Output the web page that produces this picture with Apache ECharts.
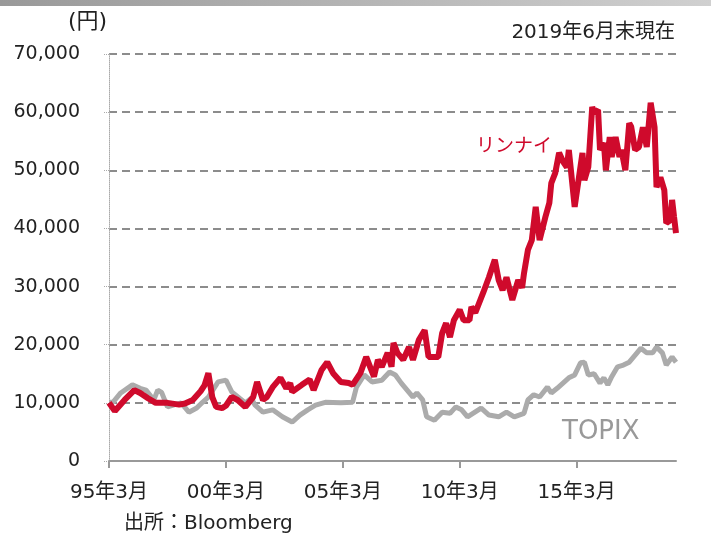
<!DOCTYPE html>
<html>
<head>
<meta charset="utf-8">
<script src="https://cdn.jsdelivr.net/npm/echarts@6/dist/echarts.min.js"></script>
<style>
  html, body { margin: 0; padding: 0; background: #fff; }
  #chart { width: 711px; height: 534px; }
</style>
</head>
<body>
<div id="chart"></div>
<script>
// x = months since 95年3月
var rinnaiMonth = [0,3,8,13,16,20,24,30,36,39,43,47,49,51,53,55,58,60,63,66,70,74,76,79,81,84,88,91,93,94,99,103,105,109,112,115,119,123,125,129,132,134,136,138,140,143,145,146,148,151,154,156,159,162,164,169,171,173,175,177,180,182,185,186,188,192,195,198,200,202,204,207,208,210,212,213,215,217,219,221,224,226,227,229,231,233,235,236,239,243,244,246,248,249,251,252,254,255,257,258,260,262,263,265,267,268,270,272,274,275,276,278,280,281,283,285,286,288,289,290,291];
var rinnaiPrice = [10000,8600,10500,12200,11700,10800,10000,10000,9700,9900,10500,12000,13000,15100,11000,9300,9100,9500,11000,10500,9300,11000,13600,10500,11000,12700,14300,12500,13400,11900,13100,14000,12200,15600,17000,15100,13600,13400,13100,15100,17900,16200,14500,17400,16200,18600,16200,20300,18600,17400,19600,17400,20800,22500,17900,17900,22000,23700,21300,24200,26000,24200,24200,26500,25500,28900,31600,34600,31100,29400,31600,27700,27700,31100,29800,32300,36300,38000,43700,38000,42000,44400,47800,49500,53000,51500,50500,53500,43700,53000,48300,50600,60900,59900,60400,53500,54700,50000,55700,52300,55700,52300,53500,50000,58100,57500,53500,54000,57400,57400,54000,61600,57400,47100,48800,46600,40900,41400,44900,42000,39200];

var topixMonth = [0,2,6,12,16,19,23,25,27,30,33,37,41,45,48,51,56,60,63,67,70,73,75,79,84,89,94,98,102,106,111,119,125,127,131,135,140,144,147,150,153,156,158,161,163,167,171,175,178,181,184,191,195,200,204,208,213,215,218,221,225,227,230,233,236,239,242,244,246,249,252,254,256,258,261,264,267,271,273,276,279,281,284,286,289,291];
var topixLevel = [10100,10100,11700,13100,12500,12200,10500,12200,11800,9300,9600,10000,8400,9100,10100,11000,13600,13900,11900,10800,10000,10800,9600,8400,8800,7600,6700,7900,8800,9600,10100,10000,10100,12700,14800,13600,13900,15300,14800,13400,12200,11000,11700,10500,7600,7000,8400,8200,9300,8800,7600,9100,7900,7600,8400,7600,8200,10500,11400,11000,12700,11700,12500,13400,14300,14800,16900,17000,14800,15000,13400,14300,13100,14500,16200,16500,17000,18600,19400,18600,18600,19600,18600,16500,17900,17000];

var lastMonth = 291; // 19年6月

function pairs(xs, ys) {
    var out = [];
    for (var i = 0; i < xs.length; i++) out.push([xs[i], ys[i]]);
    return out;
}

var font = "'DejaVu Sans', 'Noto Sans CJK JP', sans-serif";

var chart = echarts.init(document.getElementById('chart'));

var option = {
    animation: false,
    grid: { left: 109, right: 35, top: 54, bottom: 73 },
    xAxis: {
        type: 'value',
        min: 0,
        max: lastMonth,
        interval: 60,
        axisLine: { lineStyle: { color: '#999', width: 2 } },
        axisTick: { show: true, length: 7, lineStyle: { color: '#999', width: 2 } },
        splitLine: { show: false },
        axisLabel: {
            margin: 22,
            color: '#222',
            fontSize: 20,
            fontFamily: font,
            showMaxLabel: false,
            formatter: function (v) {
                var y = (1995 + v / 12) % 100;
                return (y < 10 ? '0' + y : '' + y) + '年3月';
            }
        }
    },
    yAxis: {
        type: 'value',
        min: 0,
        max: 70000,
        interval: 10000,
        axisLine: { show: true, lineStyle: { color: '#aaa', width: 1, type: 'dotted' } },
        axisTick: { show: true, length: 6, lineStyle: { color: '#aaa', type: 'dotted' } },
        splitLine: { lineStyle: { color: '#8c8c8c', width: 2, type: [8, 5] } },
        axisLabel: {
            margin: 29,
            color: '#222',
            fontSize: 19,
            fontFamily: font,
            formatter: function (v) { return v.toLocaleString('en-US'); }
        }
    },
    series: [
        {
            name: 'TOPIX',
            type: 'line',
            data: pairs(topixMonth, topixLevel),
            showSymbol: false,
            lineStyle: { color: '#ababab', width: 5 },
            z: 2
        },
        {
            name: 'リンナイ',
            type: 'line',
            data: pairs(rinnaiMonth, rinnaiPrice),
            showSymbol: false,
            lineStyle: { color: '#cf0a2c', width: 6 },
            z: 3
        }
    ],
    graphic: [
        {
            type: 'rect',
            left: 0, top: 0,
            shape: { width: 711, height: 6 },
            style: {
                fill: new echarts.graphic.LinearGradient(0, 0, 1, 0, [
                    { offset: 0, color: '#999' },
                    { offset: 1, color: '#d0d0d0' }
                ])
            }
        },
        { type: 'text', left: 68, top: 11, style: { text: '(円)', fontSize: 22, fontFamily: font, fill: '#222' } },
        { type: 'text', right: 36, top: 23, style: { text: '2019年6月末現在', fontSize: 20, fontFamily: font, fill: '#222' } },
        { type: 'text', left: 476, top: 138, style: { text: 'リンナイ', fontSize: 19, fontFamily: font, fill: '#cf0a2c' } },
        { type: 'text', left: 562, top: 419, style: { text: 'TOPIX', fontSize: 26, fontFamily: font, fill: '#999' } },
        { type: 'text', left: 124, top: 514, style: { text: '出所：Bloomberg', fontSize: 20, fontFamily: font, fill: '#222' } }
    ]
};

chart.setOption(option);
</script>
</body>
</html>
